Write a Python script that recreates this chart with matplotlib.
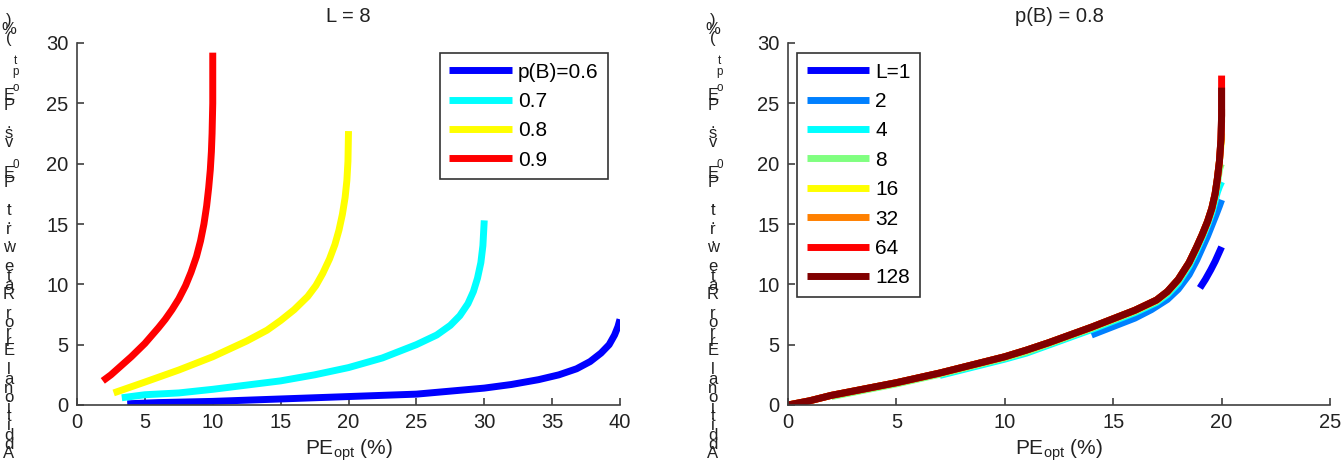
import matplotlib.pyplot as plt

plt.rcParams['font.family'] = ['Liberation Sans', 'DejaVu Sans']
plt.rcParams['mathtext.fontset'] = 'custom'
plt.rcParams['mathtext.rm'] = 'Liberation Sans'
plt.rcParams['mathtext.it'] = 'Liberation Sans'

# left panel: L = 8, one curve per p(B)
pb_labels = ['p(B)=0.6', '0.7', '0.8', '0.9']
pb_colors = ['#0000ff', '#00ffff', '#ffff00', '#ff0000']
pb_x = [
    [3.7, 6, 10, 15, 20, 25, 28, 30, 32, 34, 35.5, 36.8, 37.8, 38.6, 39.2, 39.6, 39.85, 40],
    [3.3, 5, 7.5, 10, 12.5, 15, 17.5, 20, 22.5, 25, 26.5, 27.5, 28.2, 28.8, 29.2, 29.5, 29.75, 29.9, 30],
    [2.7, 5, 7.5, 10, 12.5, 14, 15, 16, 17, 17.6, 18.1, 18.6, 19, 19.3, 19.55, 19.75, 19.88, 19.96, 20],
    [1.9, 2.5, 3, 4, 5, 6, 6.5, 7, 7.5, 8, 8.4, 8.8, 9.1, 9.35, 9.55, 9.7, 9.82, 9.9, 9.95, 10, 10],
]
pb_y = [
    [0.1, 0.2, 0.3, 0.5, 0.7, 0.9, 1.2, 1.4, 1.7, 2.1, 2.5, 3.0, 3.6, 4.3, 5.0, 5.8, 6.5, 7.1],
    [0.6, 0.85, 1.0, 1.3, 1.65, 2.0, 2.5, 3.1, 3.9, 5.0, 5.8, 6.6, 7.4, 8.4, 9.4, 10.5, 11.8, 13.2, 15.3],
    [1.0, 1.9, 2.9, 4.0, 5.3, 6.2, 7.0, 7.9, 9.0, 9.9, 10.9, 12.1, 13.3, 14.5, 15.8, 17.2, 18.6, 20.2, 22.7],
    [2.0, 2.5, 3.0, 4.0, 5.1, 6.4, 7.1, 7.9, 8.8, 9.9, 11.0, 12.3, 13.6, 15.0, 16.5, 18.0, 19.5, 21.0, 22.5, 25.0, 29.2],
]

# right panel: p(B) = 0.8, one curve per L
L_labels = ['L=1', '2', '4', '8', '16', '32', '64', '128']
L_colors = ['#0000ff', '#0080ff', '#00ffff', '#80ff80', '#ffff00', '#ff8000', '#ff0000', '#800000']
L_x = [
    [19.0, 19.25, 19.5, 19.7, 19.85, 19.95, 20],
    [14.0, 15, 16, 16.76, 17.5, 18, 18.5, 18.85, 19.1, 19.35, 19.55, 19.75, 19.9, 20],
    [7, 8, 9, 10, 11, 12, 13, 14, 15, 16, 17, 17.5, 18, 18.5, 18.85, 19.1, 19.35, 19.55, 19.7, 19.8, 19.9, 20],
    [2, 3, 4, 5, 6, 7, 8, 9, 10, 11, 12, 13, 14, 15, 16, 17, 17.5, 18, 18.5, 18.85, 19.1, 19.35, 19.55, 19.7, 19.8, 19.9, 19.97, 20],
    [0, 1, 2, 3, 4, 5, 6, 7, 8, 9, 10, 11, 12, 13, 14, 15, 16, 17, 17.5, 18, 18.5, 18.85, 19.1, 19.35, 19.55, 19.7, 19.8, 19.9, 19.97, 20, 20],
    [0, 1, 2, 3, 4, 5, 6, 7, 8, 9, 10, 11, 12, 13, 14, 15, 16, 17, 17.5, 18, 18.5, 18.85, 19.1, 19.35, 19.55, 19.7, 19.8, 19.9, 19.97, 20, 20],
    [0, 1, 2, 3, 4, 5, 6, 7, 8, 9, 10, 11, 12, 13, 14, 15, 16, 17, 17.5, 18, 18.5, 18.85, 19.1, 19.35, 19.55, 19.7, 19.8, 19.9, 19.97, 20, 20],
    [0, 1, 2, 3, 4, 5, 6, 7, 8, 9, 10, 11, 12, 13, 14, 15, 16, 17, 17.5, 18, 18.5, 18.85, 19.1, 19.35, 19.55, 19.7, 19.8, 19.9, 19.97, 20, 20],
]
L_y = [
    [9.7, 10.4, 11.2, 11.9, 12.5, 12.9, 13.1],
    [5.8, 6.5, 7.2, 7.9, 8.75, 9.6, 10.8, 12.0, 13.0, 14.0, 14.9, 15.8, 16.5, 17.0],
    [2.45, 2.9, 3.35, 3.8, 4.3, 4.95, 5.6, 6.25, 6.95, 7.65, 8.5, 9.15, 10.1, 11.5, 12.8, 13.8, 14.9, 15.9, 16.9, 17.6, 18.1, 18.5],
    [0.7, 1.05, 1.4, 1.75, 2.15, 2.55, 3.0, 3.45, 3.9, 4.4, 5.05, 5.7, 6.35, 7.05, 7.75, 8.6, 9.3, 10.3, 11.7, 13.0, 14.0, 15.1, 16.2, 17.3, 18.3, 19.5, 19.9, 20.0],
    [0, 0.35, 0.8, 1.15, 1.5, 1.85, 2.25, 2.65, 3.1, 3.55, 4.0, 4.55, 5.15, 5.8, 6.45, 7.15, 7.85, 8.7, 9.4, 10.4, 11.8, 13.1, 14.1, 15.2, 16.3, 17.5, 18.7, 20.2, 21.5, 22.0, 22.5],
    [0, 0.35, 0.8, 1.15, 1.5, 1.85, 2.25, 2.65, 3.1, 3.55, 4.0, 4.55, 5.15, 5.8, 6.45, 7.15, 7.85, 8.7, 9.4, 10.4, 11.8, 13.1, 14.1, 15.2, 16.3, 17.5, 18.7, 20.2, 22.0, 23.5, 24.5],
    [0, 0.35, 0.8, 1.15, 1.5, 1.85, 2.25, 2.65, 3.1, 3.55, 4.0, 4.55, 5.15, 5.8, 6.45, 7.15, 7.85, 8.7, 9.4, 10.4, 11.8, 13.1, 14.1, 15.2, 16.3, 17.5, 18.7, 20.2, 22.0, 24.0, 27.3],
    [0, 0.35, 0.8, 1.15, 1.5, 1.85, 2.25, 2.65, 3.1, 3.55, 4.0, 4.55, 5.15, 5.8, 6.45, 7.15, 7.85, 8.7, 9.4, 10.4, 11.8, 13.1, 14.1, 15.2, 16.3, 17.5, 18.7, 20.2, 22.0, 24.0, 26.3],
]

# characters of the y label, read bottom to top; tuples are subscripts
ylabel_chars = list('Additional Error Rate w.r.t. PE') + [('0',)] + list(' vs. PE') + [('o',), ('p',), ('t',)] + list(' (%)')

W, H = 1342, 472
fig = plt.figure(figsize=(W / 100, H / 100), dpi=100)
axL = fig.add_axes([77 / W, 1 - 405 / H, 543 / W, 362 / H])
axR = fig.add_axes([788 / W, 1 - 405 / H, 542 / W, 362 / H])

fs = 14.5
axcol = '#404040'
txtcol = '#222222'

for x, y, c, lab in zip(pb_x, pb_y, pb_colors, pb_labels):
    axL.plot(x, y, color=c, lw=5, label=lab, solid_capstyle='butt', solid_joinstyle='round')
for x, y, c, lab in zip(L_x, L_y, L_colors, L_labels):
    axR.plot(x, y, color=c, lw=5, label=lab, solid_capstyle='butt', solid_joinstyle='round')

for ax, xmax, title in [(axL, 40, 'L = 8'), (axR, 25, 'p(B) = 0.8')]:
    ax.set_xlim(0, xmax)
    ax.set_ylim(0, 30)
    ax.set_xticks(range(0, xmax + 1, 5))
    ax.set_yticks(range(0, 31, 5))
    for s in ['top', 'right']:
        ax.spines[s].set_visible(False)
    for s in ['left', 'bottom']:
        ax.spines[s].set_color(axcol)
        ax.spines[s].set_linewidth(1.2)
    ax.tick_params(direction='in', length=5, width=1.2, color=axcol,
                   labelsize=fs, labelcolor=txtcol, pad=6)
    ax.set_title(title, fontsize=fs, color=txtcol, pad=15)
    ax.set_xlabel(r'PE$_{\mathrm{opt}}$ (%)', fontsize=15, color=txtcol, labelpad=4)

legL = axL.legend(loc='upper right', bbox_to_anchor=(0.978, 0.972), borderaxespad=0,
                  fontsize=15, handlelength=3.0, handletextpad=0.3, labelspacing=0.5,
                  fancybox=False, framealpha=1, edgecolor='#333333', borderpad=0.45)
legR = axR.legend(loc='upper left', bbox_to_anchor=(0.017, 0.972), borderaxespad=0,
                  fontsize=15, handlelength=3.0, handletextpad=0.3, labelspacing=0.5,
                  fancybox=False, framealpha=1, edgecolor='#333333', borderpad=0.45)
for leg in (legL, legR):
    leg.get_frame().set_linewidth(1.2)

# y labels drawn as upright characters stacked bottom-to-top
lines = []
for ch in reversed(ylabel_chars):
    if isinstance(ch, tuple):
        lines.append(r'$\quad{}_{\mathrm{%s}}$' % ch[0])
    else:
        lines.append(ch)
stacked = '\n'.join(lines)
for xcol in (9, 713):
    fig.text(xcol / W, 1 - 237 / H, stacked, fontsize=12, color=txtcol,
             ha='center', va='center', linespacing=0.53, multialignment='center')

fig.savefig('out.png', dpi=100)
